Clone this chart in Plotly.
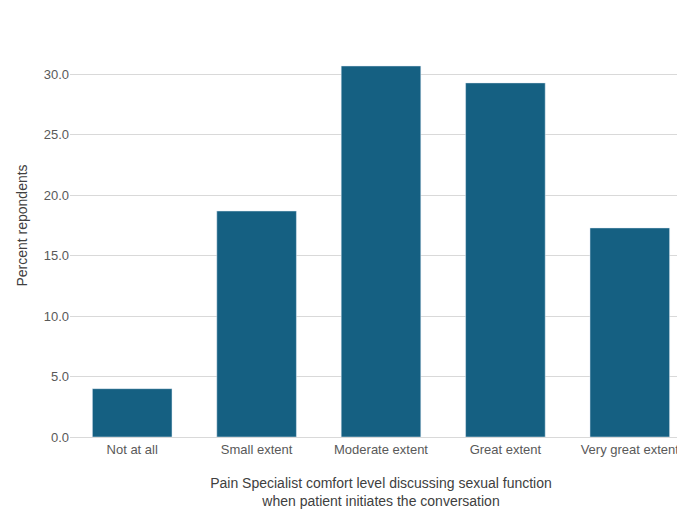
import plotly.graph_objects as go

categories = ["Not at all", "Small extent", "Moderate extent", "Great extent", "Very great extent"]
values = [4.0, 18.7, 30.7, 29.3, 17.3]
tick_vals = [0, 5, 10, 15, 20, 25, 30, 35]
tick_text = ["0.0", "5.0", "10.0", "15.0", "20.0", "25.0", "30.0", "35.0"]

fig = go.Figure(go.Bar(x=categories, y=values, marker_color="#156082", width=0.64, cliponaxis=False))
fig.update_layout(
    width=685, height=522, margin=dict(l=62, r=1, t=6, b=93, autoexpand=False),
    plot_bgcolor="white", paper_bgcolor="white",
    font=dict(family="Liberation Sans", size=13, color="#595959"),
    showlegend=False,
    xaxis=dict(title=dict(text="Pain Specialist comfort level discussing sexual function<br>when patient initiates the conversation",
                          font=dict(size=14, color="#404040"), standoff=22),
               showline=True, linecolor="#d9d9d9", ticks="", automargin=False),
    yaxis=dict(title=dict(text="Percent repondents", font=dict(size=14, color="#404040"), standoff=12),
               range=[0, 35], tickvals=tick_vals, ticktext=tick_text,
               gridcolor="#d9d9d9", zeroline=False, automargin=False),
)
fig.write_html("out.html")
